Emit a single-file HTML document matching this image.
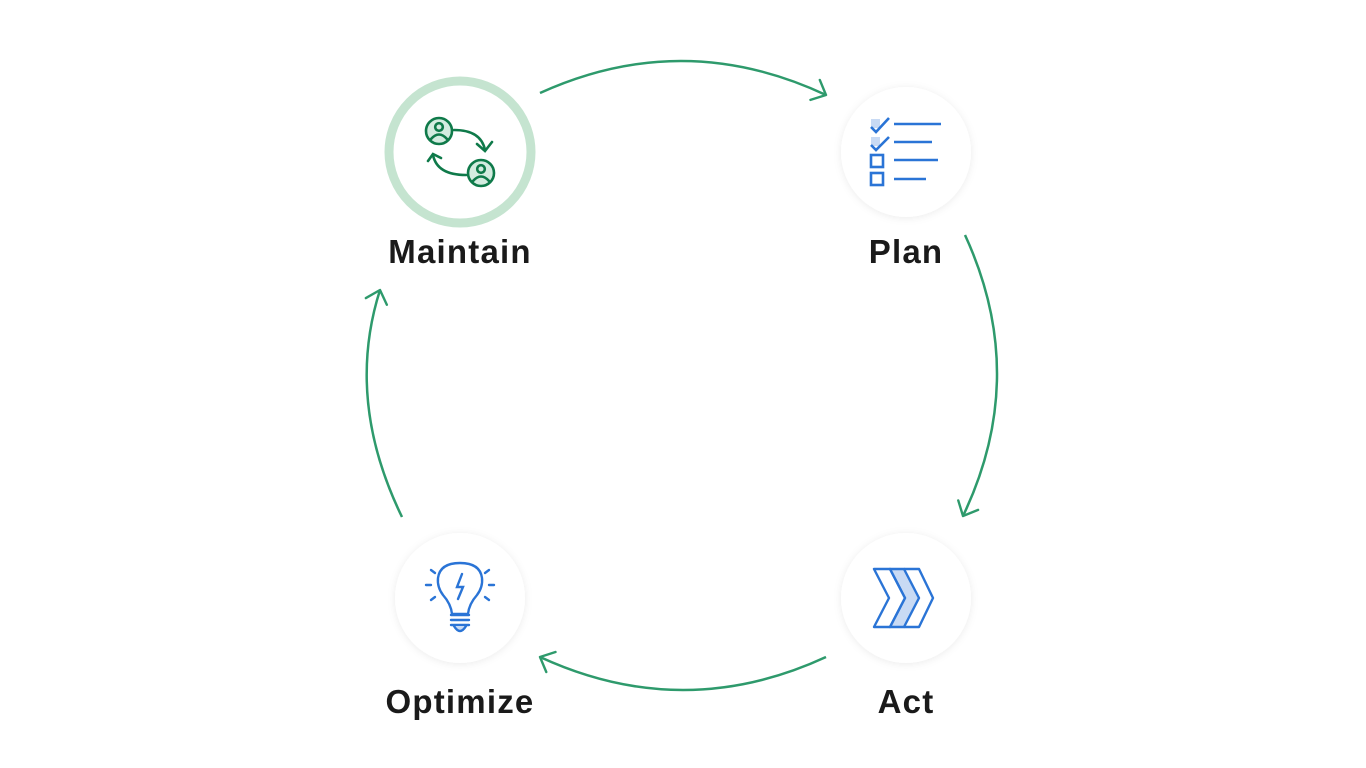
<!DOCTYPE html>
<html><head><style>
html,body{margin:0;padding:0;background:#fff;}
body{width:1366px;height:768px;position:relative;overflow:hidden;font-family:"Liberation Sans",sans-serif;}
.lbl{position:absolute;width:300px;text-align:center;font-weight:bold;font-size:33px;letter-spacing:1.2px;color:#1a1a1a;}
</style></head><body>
<svg width="1366" height="768" style="position:absolute;left:0;top:0">
<defs>
<marker id="a" markerWidth="30" markerHeight="30" refX="15" refY="15" orient="auto" markerUnits="userSpaceOnUse">
<path d="M3 4 L15 15 L3 26" fill="none" stroke="#2e9a6c" stroke-width="2.4" stroke-linecap="round" stroke-linejoin="round"/>
</marker>
<filter id="sh" x="-30%" y="-30%" width="160%" height="160%"><feDropShadow dx="0" dy="1" stdDeviation="4" flood-color="#000" flood-opacity="0.08"/></filter>
</defs>
<g fill="none" stroke="#2e9a6c" stroke-width="2.5">
<path d="M540 93 Q683 28 826 95" marker-end="url(#a)"/>
<path d="M965 235 Q1030 376 963 516" marker-end="url(#a)"/>
<path d="M826 657 Q683 723 540 657" marker-end="url(#a)"/>
<path d="M402 517 Q345 400 380 290" marker-end="url(#a)"/>
</g>
<circle cx="460" cy="152" r="71" fill="#fff" stroke="#c5e4d0" stroke-width="9"/>
<circle cx="906" cy="152" r="65" fill="#fff" filter="url(#sh)"/>
<circle cx="906" cy="598" r="65" fill="#fff" filter="url(#sh)"/>
<circle cx="460" cy="598" r="65" fill="#fff" filter="url(#sh)"/>
<g stroke="#0f7a4a" stroke-width="2.6" fill="none" stroke-linecap="round">
<circle cx="439" cy="131" r="13" fill="#d4ece0"/>
<circle cx="439" cy="127" r="3.8"/>
<path d="M431 139 Q439 130 447 139"/>
<circle cx="481" cy="173" r="13" fill="#d4ece0"/>
<circle cx="481" cy="169" r="3.8"/>
<path d="M473 181 Q481 172 489 181"/>
<path d="M454 130 Q481 130 485 150"/>
<path d="M477 144 L485 151 L492 142"/>
<path d="M466 175 Q437 175 433 155"/>
<path d="M428 161 L433 154 L441 158"/>
</g>
<g stroke="#2a74d6" stroke-width="2.6" fill="none">
<rect x="871" y="119" width="9" height="9" fill="#c8daf4" stroke="none"/>
<rect x="871" y="137" width="9" height="9" fill="#c8daf4" stroke="none"/>
<path d="M871 127 L876 132 L889 118"/>
<path d="M871 145 L876 150 L889 137"/>
<rect x="871" y="155" width="12" height="12"/>
<rect x="871" y="173" width="12" height="12"/>
<path d="M894 124 H941 M894 142 H932 M894 160 H938 M894 179 H926"/>
</g>
<g stroke="#2a74d6" stroke-width="2.4" fill="none" stroke-linejoin="round">
<path d="M890 569 L904 569 L919 598 L904 627 L890 627 L905 598 Z" fill="#c8daf4"/>
<path d="M874 569 L890 569 L905 598 L890 627 L874 627 L889 598 Z"/>
<path d="M904 569 L919 569 L933 598 L919 627 L904 627"/>
</g>
<g stroke="#2a74d6" stroke-width="2.4" fill="none" stroke-linecap="round">
<path d="M452 614 Q451 604 443 595 Q437 587 438 578 Q440 563 460 563 Q480 563 482 578 Q483 587 477 595 Q469 604 468 614 Z"/>
<path d="M462 574 L457 587 L463 587 L458 599"/>
<path d="M451 615 H469 M451 620 H469 M451 625 H469"/>
<path d="M454 626 Q460 636 466 626" fill="#c8daf4"/>
<path d="M426 585 H431 M489 585 H494 M431 570 L435 573 M489 570 L485 573 M431 600 L435 597 M489 600 L485 597"/>
</g>
</svg>
<div class="lbl" style="left:310px;top:233px">Maintain</div>
<div class="lbl" style="left:756px;top:233px">Plan</div>
<div class="lbl" style="left:310px;top:683px">Optimize</div>
<div class="lbl" style="left:756px;top:683px">Act</div>
</body></html>
